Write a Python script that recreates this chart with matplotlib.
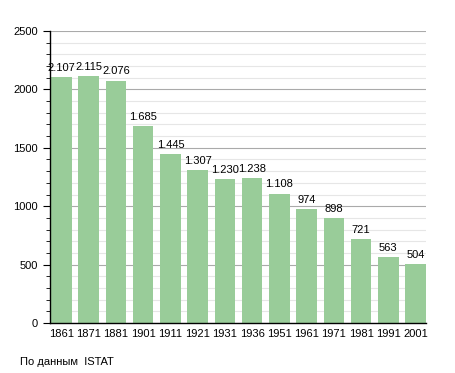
import matplotlib
matplotlib.use("Agg")
import matplotlib.pyplot as plt
from matplotlib.ticker import MultipleLocator

years = ["1861", "1871", "1881", "1901", "1911", "1921", "1931",
         "1936", "1951", "1961", "1971", "1981", "1991", "2001"]
population = [2107, 2115, 2076, 1685, 1445, 1307, 1230,
              1238, 1108, 974, 898, 721, 563, 504]
labels = ["2.107", "2.115", "2.076", "1.685", "1.445", "1.307", "1.230",
          "1.238", "1.108", "974", "898", "721", "563", "504"]

plt.rcParams['font.family'] = ['Liberation Sans', 'DejaVu Sans']

fig = plt.figure(figsize=(4.55, 3.73), dpi=100)
ax = fig.add_axes([50/455, 1-323/373, 376/455, 292/373])

x = range(len(years))
ax.bar(x, population, width=0.75, color="#99cc99", zorder=2)
for i, (v, lab) in enumerate(zip(population, labels)):
    ax.text(i, v + 35, lab, ha="center", va="bottom", fontsize=8, zorder=3)

ax.set_xlim(-0.42, 13.38)
ax.set_ylim(0, 2500)
ax.set_xticks(list(x))
ax.set_xticklabels(years)
ax.yaxis.set_major_locator(MultipleLocator(500))
ax.yaxis.set_minor_locator(MultipleLocator(100))
ax.grid(axis="y", which="major", color="#aaaaaa", linewidth=0.8, zorder=0)
ax.grid(axis="y", which="minor", color="#e6e6e6", linewidth=0.8, zorder=0)
ax.set_axisbelow(True)

for s in ["top", "right"]:
    ax.spines[s].set_visible(False)
ax.spines["left"].set_linewidth(1.0)
ax.spines["bottom"].set_linewidth(1.0)
ax.tick_params(axis="x", length=0, labelsize=8, pad=4)
ax.tick_params(axis="y", which="major", length=5, labelsize=8)
ax.tick_params(axis="y", which="minor", length=3)

fig.text(20/455, 1-362/373, "По данным  ISTAT", fontsize=8, va="center")

fig.savefig("out.png", dpi=100)
